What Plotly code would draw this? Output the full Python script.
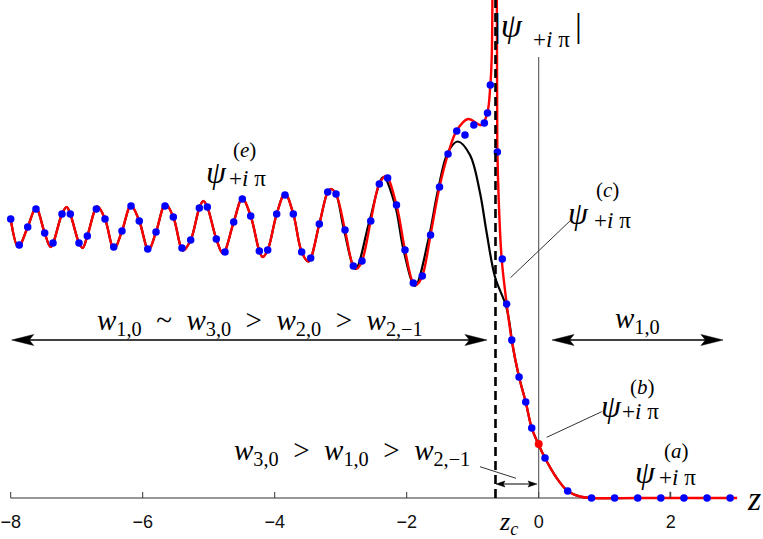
import plotly.graph_objects as go

W, H = 763, 539

# ---------------- data ----------------
# red approximation curve, branch left of the pole z_c
red_left_x = [-8.000, -7.885, -7.742, -7.617, -7.485, -7.394, -7.223, -7.152, -7.097, -6.965,
              -6.909, -6.839, -6.685, -6.571, -6.435, -6.314, -6.177, -6.052, -5.912, -5.798,
              -5.655, -5.536, -5.389, -5.273, -5.142, -5.082, -5.021, -4.885, -4.783, -4.621,
              -4.491, -4.364, -4.233, -4.182, -4.106, -3.970, -3.844, -3.718, -3.591, -3.488,
              -3.324, -3.197, -3.147, -3.071, -2.935, -2.809, -2.753, -2.677, -2.545, -2.415,
              -2.314, -2.155, -2.026, -1.900, -1.848, -1.764, -1.639, -1.503, -1.374, -1.242,
              -1.071, -0.867, -0.779, -0.733, -0.712, -0.700]
red_left_y = [2.79, 2.51, 2.71, 2.90, 2.65, 2.51, 2.84, 2.91, 2.84, 2.55,
              2.50, 2.62, 2.915, 2.79, 2.49, 2.67, 2.925, 2.77, 2.48, 2.66,
              2.94, 2.81, 2.475, 2.58, 2.90, 2.97, 2.91, 2.59, 2.445, 2.76,
              2.995, 2.82, 2.47, 2.41, 2.48, 2.84, 3.045, 2.84, 2.46, 2.365,
              2.74, 3.06, 3.09, 3.04, 2.68, 2.32, 2.295, 2.37, 2.77, 3.14,
              3.22, 2.93, 2.48, 2.15, 2.135, 2.22, 2.63, 3.11, 3.44, 3.675,
              3.79, 3.73, 3.85, 4.13, 4.41, 5.30]
# red curve, branch right of the pole
red_right_x = [-0.636, -0.630, -0.626, -0.606, -0.561, -0.485, -0.409, -0.298, -0.197, -0.106,
               -0.006, 0.095, 0.262, 0.439, 0.626, 0.803, 1.500, 2.200, 3.005]
red_right_y = [5.30, 3.98, 3.46, 2.98, 2.39, 1.94, 1.58, 1.21, 0.96, 0.70,
               0.54, 0.40, 0.21, 0.07, 0.015, 0.0, 0.0, 0.0, 0.0]

# black (exact) curve where it departs from the red one
black_mid_x = [-2.950, -2.776, -2.564, -2.355, -2.177, -2.048, -1.874, -1.673, -1.526, -1.374,
               -1.227, -1.041, -0.889, -0.788, -0.662, -0.495, -0.427]
black_mid_y = [2.68, 2.29, 2.77, 3.21, 2.93, 2.48, 2.12, 2.58, 3.08, 3.46,
               3.565, 3.43, 3.05, 2.65, 2.21, 1.92, 1.68]

# blue sample points
blue_x = [-8.000, -7.870, -7.742, -7.617, -7.485, -7.359, -7.223, -7.097, -6.965, -6.839,
          -6.703, -6.571, -6.439, -6.314, -6.177, -6.052, -5.924, -5.798, -5.662, -5.536,
          -5.405, -5.273, -5.142, -5.021, -4.885, -4.753, -4.621, -4.491, -4.364, -4.233,
          -4.106, -3.970, -3.844, -3.718, -3.591, -3.455, -3.324, -3.197, -3.071, -2.935,
          -2.809, -2.677, -2.545, -2.415, -2.289, -2.155, -2.026, -1.900, -1.764, -1.639,
          -1.503, -1.374, -1.242, -1.117, -0.983, -0.824, -0.776, -0.733, -0.627, -0.552,
          -0.485, -0.409, -0.298, -0.197, -0.106, 0.095, 0.439, 0.80, 1.15, 1.50,
          1.85, 2.20, 2.55, 2.90]
blue_y = [2.79, 2.53, 2.71, 2.89, 2.65, 2.55, 2.84, 2.84, 2.55, 2.62,
          2.89, 2.79, 2.51, 2.67, 2.92, 2.77, 2.49, 2.66, 2.92, 2.81,
          2.50, 2.58, 2.90, 2.91, 2.59, 2.46, 2.76, 2.99, 2.82, 2.47,
          2.48, 2.84, 3.03, 2.84, 2.46, 2.40, 2.74, 3.06, 3.04, 2.68,
          2.32, 2.37, 2.77, 3.14, 3.20, 2.93, 2.48, 2.15, 2.22, 2.63,
          3.11, 3.44, 3.67, 3.63, 3.73, 3.75, 3.85, 4.13, 3.46, 2.39,
          1.94, 1.58, 1.21, 0.96, 0.70, 0.40, 0.07, 0.0, 0.0, 0.0,
          0.0, 0.0, 0.0, 0.0]

red_dot_x = [0.0]
red_dot_y = [0.54]

tick_vals = [-8, -6, -4, -2, 0, 2]
tick_text = ["\u22128", "\u22126", "\u22124", "\u22122", "0", "2"]
z_c = -0.655
axis_x = [-8.0, 3.0]

# ---------------- figure ----------------
X_RANGE = [-8.162, 3.398]
Y_RANGE = [-0.41, 4.98]
AXIS_PAPER = 1 - 498 / H

black_x = [x for x in red_left_x if x < -3.0] + black_mid_x + [x for x in red_right_x if x > -0.42]
black_y = ([y for x, y in zip(red_left_x, red_left_y) if x < -3.0] + black_mid_y
           + [y for x, y in zip(red_right_x, red_right_y) if x > -0.42])

fig = go.Figure()
fig.add_trace(go.Scatter(x=black_x, y=black_y, mode="lines",
                         line=dict(color="black", width=2.2, shape="spline", smoothing=1.0),
                         hoverinfo="skip"))
fig.add_trace(go.Scatter(x=red_left_x + [None] + red_right_x, y=red_left_y + [None] + red_right_y,
                         mode="lines", connectgaps=False,
                         line=dict(color="#ff0000", width=2.4, shape="spline", smoothing=1.0),
                         hoverinfo="skip"))
fig.add_trace(go.Scatter(x=blue_x, y=blue_y, mode="markers",
                         marker=dict(color="#0000ff", size=7.5, line=dict(width=0)),
                         hoverinfo="skip"))
fig.add_trace(go.Scatter(x=red_dot_x, y=red_dot_y, mode="markers",
                         marker=dict(color="#ff0000", size=8, line=dict(width=0)),
                         hoverinfo="skip"))


def P(px, py):
    return px / W, 1 - py / H


shapes = []
# z axis line
shapes.append(dict(type="line", xref="x", yref="y", x0=axis_x[0], x1=axis_x[1], y0=0, y1=0,
                   line=dict(color="#333333", width=1.2), layer="below"))
# upward tick marks on the z axis
for tv in tick_vals:
    shapes.append(dict(type="line", xref="x", yref="paper", x0=tv, x1=tv,
                       y0=AXIS_PAPER, y1=AXIS_PAPER + 6 / H,
                       line=dict(color="#333333", width=1), layer="below"))
# vertical line at z = 0
shapes.append(dict(type="line", xref="x", yref="paper", x0=0, x1=0, y0=AXIS_PAPER, y1=1 - 57 / H,
                   line=dict(color="#444444", width=1), layer="below"))
# dashed line at z_c
shapes.append(dict(type="line", xref="x", yref="paper", x0=z_c, x1=z_c, y0=AXIS_PAPER, y1=1.0,
                   line=dict(color="black", width=2.6, dash="9px,5px")))


def seg(p0, p1, color="#333333", width=1.0):
    x0, y0 = P(*p0)
    x1, y1 = P(*p1)
    return dict(type="line", xref="paper", yref="paper", x0=x0, y0=y0, x1=x1, y1=y1,
                line=dict(color=color, width=width))


def head(tip, direction, L, Hh):
    tx, ty = tip
    d = direction
    pts = [(tx, ty), (tx - d * L, ty - Hh / 2), (tx - d * 0.8 * L, ty), (tx - d * L, ty + Hh / 2)]
    path = ""
    for i, (px, py) in enumerate(pts):
        x, y = P(px, py)
        path += ("M" if i == 0 else "L") + f"{x:.5f},{y:.5f}"
    path += "Z"
    return dict(type="path", xref="paper", yref="paper", path=path,
                fillcolor="black", line=dict(color="black", width=0.5))


# leader lines
shapes.append(seg((510.5, 277.7), (571.7, 219.3)))
shapes.append(seg((546.7, 437.3), (601.7, 411.7)))
shapes.append(seg((670, 491.7), (670, 498)))
shapes.append(seg((480, 466.7), (516, 478.3)))
# double arrows
shapes.append(seg((25, 340), (475, 340), "black", 1.3))
shapes.append(head((11.7, 340), -1, 22, 11))
shapes.append(head((487, 340), 1, 22, 11))
shapes.append(seg((565, 340), (710, 340), "black", 1.3))
shapes.append(head((552, 340), -1, 22, 11))
shapes.append(head((723, 340), 1, 22, 11))
shapes.append(seg((500, 484), (533, 484), "black", 1.2))
shapes.append(head((496, 484), -1, 9, 6))
shapes.append(head((537, 484), 1, 9, 6))

SERIF = "Liberation Serif"
annotations = []


def ann(px, py, text, size, xanchor="center", yanchor="middle"):
    x, y = P(px, py)
    annotations.append(dict(x=x, y=y, xref="paper", yref="paper", text=text, showarrow=False,
                            xanchor=xanchor, yanchor=yanchor, borderpad=0,
                            font=dict(family=SERIF, size=size, color="black")))


SUB = "+<i>i</i> \u03c0"
PSI = "<i>\u03c8</i>"
G = "\u2002"  # wider gap around relation signs

# |psi_{+i pi}|
ann(493, 26, "|" + PSI, 34, xanchor="left")
ann(532, 39, SUB, 23, xanchor="left")
ann(574, 26, "|", 34, xanchor="left")
# psi^(e)
ann(216, 172, PSI, 32)
ann(244, 150, "(<i>e</i>)", 21)
ann(228, 178, SUB, 23, xanchor="left")
# psi^(c)
ann(578, 212.5, PSI, 32)
ann(607.5, 190, "(<i>c</i>)", 21)
ann(593, 220, SUB, 23, xanchor="left")
# psi^(b)
ann(611.5, 406, PSI, 32)
ann(642, 387, "(<i>b</i>)", 21)
ann(621, 411.5, SUB, 23, xanchor="left")
# psi^(a)
ann(645, 471.5, PSI, 32)
ann(676, 451, "(<i>a</i>)", 21)
ann(658, 477.5, SUB, 23, xanchor="left")
# inequalities
ann(260, 322, "<i>w</i><sub>1,0</sub>" + G + "~" + G + "<i>w</i><sub>3,0</sub>" + G + "&gt;" + G
    + "<i>w</i><sub>2,0</sub>" + G + "&gt;" + G + "<i>w</i><sub>2,\u22121</sub>", 29)
ann(637, 320, "<i>w</i><sub>1,0</sub>", 29)
ann(352, 452, "<i>w</i><sub>3,0</sub>" + G + "&gt;" + G + "<i>w</i><sub>1,0</sub>" + G + "&gt;" + G
    + "<i>w</i><sub>2,\u22121</sub>", 29)
# z_c and z
ann(508, 523, "<i>z</i><sub><i>c</i></sub>", 26)
ann(754, 498, "<i>z</i>", 34)

fig.update_layout(
    template="none",
    width=W, height=H,
    margin=dict(l=0, r=0, t=0, b=0, pad=0, autoexpand=False),
    paper_bgcolor="white", plot_bgcolor="white",
    showlegend=False,
    shapes=shapes,
    annotations=annotations,
    xaxis=dict(range=X_RANGE, showgrid=False, zeroline=False, showline=False, automargin=False,
               tickmode="array", tickvals=tick_vals, ticktext=tick_text,
               ticks="outside", ticklen=7, tickwidth=1, tickcolor="rgba(0,0,0,0)",
               anchor="free", position=AXIS_PAPER, side="bottom",
               tickfont=dict(family="Liberation Sans", size=18, color="#111111"),
               fixedrange=True),
    yaxis=dict(range=Y_RANGE, visible=False, automargin=False, fixedrange=True),
)

fig.write_html("out.html", config={"displayModeBar": False},
               post_script="document.body.style.margin='0';document.body.style.overflow='hidden';")
